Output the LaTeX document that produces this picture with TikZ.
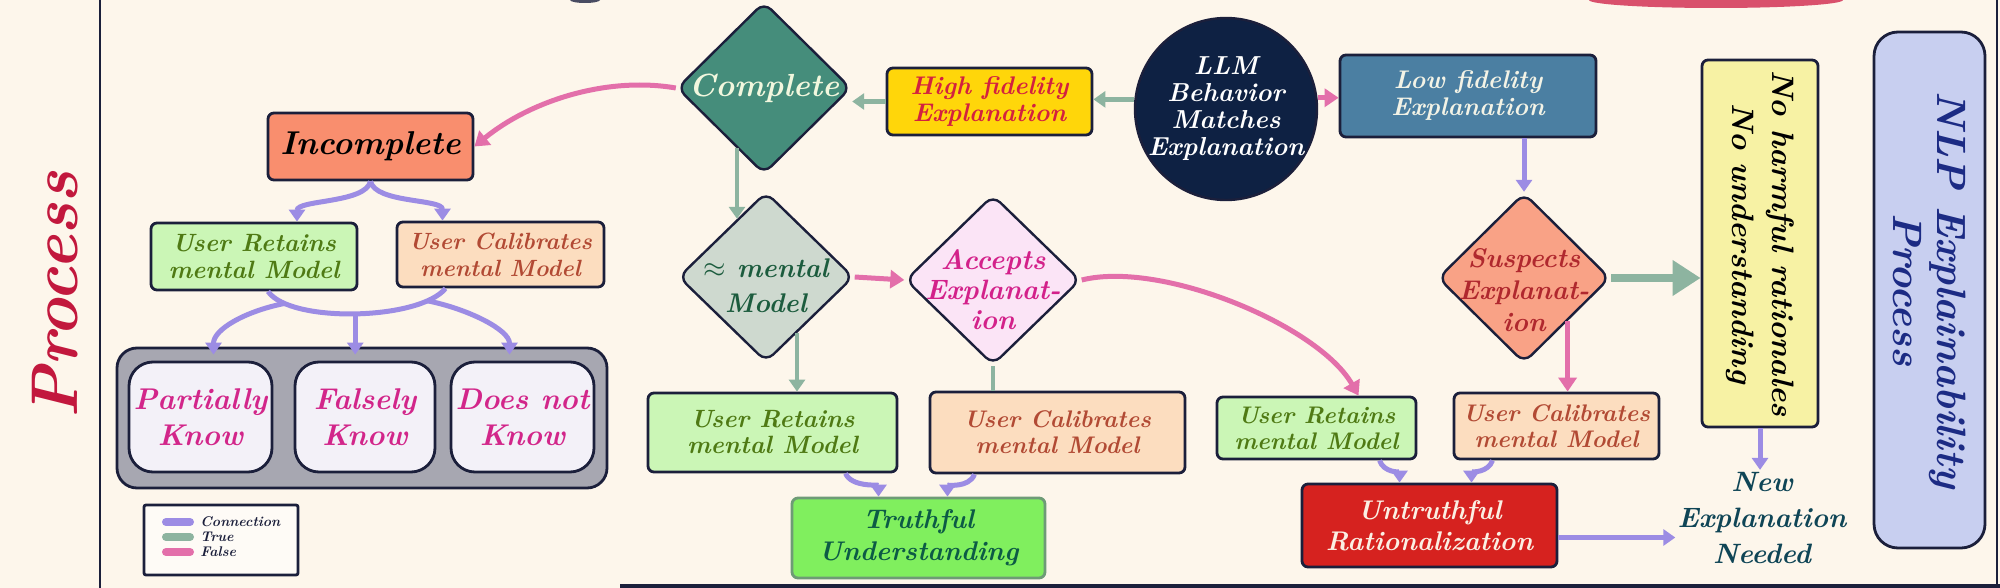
\documentclass[tikz,border=0pt]{standalone}
\usepackage{fontspec}
\usetikzlibrary{shapes.geometric,arrows.meta,calc}
\newcommand\handf[2]{\fontsize{#1}{#2}\selectfont\bfseries\itshape}
\definecolor{bg}{HTML}{FDF6EB}
\definecolor{navy}{HTML}{1B1F3B}
\definecolor{conn}{HTML}{9C8CE4}
\definecolor{tru}{HTML}{8DB4A0}
\definecolor{fal}{HTML}{E36FAA}
\definecolor{incfill}{HTML}{F98E6E}
\definecolor{retfill}{HTML}{CBF6B6}
\definecolor{rettext}{HTML}{4F7A14}
\definecolor{calfill}{HTML}{FCDDBF}
\definecolor{caltext}{HTML}{B24A34}
\definecolor{grayc}{HTML}{A7A7B1}
\definecolor{knowfill}{HTML}{F3F1F8}
\definecolor{knowtext}{HTML}{D2268A}
\definecolor{compfill}{HTML}{458D7B}
\definecolor{comptext}{HTML}{F2F7DE}
\definecolor{hifill}{HTML}{FFD60A}
\definecolor{hitext}{HTML}{D3213F}
\definecolor{llmfill}{HTML}{0E2143}
\definecolor{lofill}{HTML}{4B7FA2}
\definecolor{lotext}{HTML}{F3F3E6}
\definecolor{susfill}{HTML}{F9A286}
\definecolor{sustext}{HTML}{B0282E}
\definecolor{menfill}{HTML}{CED9CF}
\definecolor{mentext}{HTML}{1C5C3E}
\definecolor{accfill}{HTML}{FBE4F6}
\definecolor{acctext}{HTML}{D3218A}
\definecolor{trufill}{HTML}{80EF5E}
\definecolor{trutext}{HTML}{0C5B45}
\definecolor{truborder}{HTML}{6E9B76}
\definecolor{untfill}{HTML}{D6221F}
\definecolor{unttext}{HTML}{FBEFE3}
\definecolor{yelfill}{HTML}{F7F2A4}
\definecolor{nlpfill}{HTML}{C8CFF0}
\definecolor{nlptext}{HTML}{1C2B84}
\definecolor{newtext}{HTML}{0F4556}
\definecolor{procred}{HTML}{C2183D}
\definecolor{toppink}{HTML}{D9506C}
\tikzset{
  box/.style={draw=navy, line width=1.4pt, rounded corners=3pt, align=center, inner sep=0pt},
  diam/.style={diamond, draw=navy, line width=1.2pt, rounded corners=5pt, inner sep=0pt},
  ca/.style={draw=conn, line width=2.5pt, -{Triangle[length=6pt,width=8pt]}},
  cl/.style={draw=conn, line width=2.5pt},
  ta/.style={draw=tru, line width=2.2pt, -{Triangle[length=6pt,width=8pt]}},
  tl/.style={draw=tru, line width=2.2pt},
  fa/.style={draw=fal, line width=2.5pt, -{Triangle[length=7pt,width=9pt]}},
  txt/.style={align=center, inner sep=1pt},
}
\begin{document}
\begin{tikzpicture}[x=0.5pt,y=-0.5pt]
\useasboundingbox (0,0) rectangle (2000,588);
\fill[bg] (0,0) rectangle (2000,588);
% frame and cut-off shapes at the edges
\draw[navy, line width=1.3pt] (100,0) -- (100,588);
\draw[navy, line width=1.6pt] (620,586) -- (2000,586);
\draw[navy, line width=1.3pt] (1997,0) -- (1997,588);
\fill[toppink] (1716,0) ellipse [x radius=127, y radius=8];
\fill[navy!80] (585,0) ellipse [x radius=15, y radius=3];

% left title
\node[rotate=90, text=procred, font=\handf{33}{33}] (proc) at (55,295) {Process};

% left part
\node[box, fill=incfill, minimum width=102.5pt, minimum height=33.5pt, font=\handf{16.5}{20}] (incomplete) at (370.5,146.5) {Incomplete};
\node[box, fill=retfill, text=rettext, minimum width=103pt, minimum height=33.5pt, font=\handf{12.5}{13.5}] (l1) at (254,256.5) {User Retains\\mental Model};
\node[box, fill=calfill, text=caltext, minimum width=103.5pt, minimum height=32.5pt, font=\handf{11.75}{13.5}] (l2) at (500.5,254.5) {User Calibrates\\mental Model};
\node[box, fill=grayc, rounded corners=10pt, minimum width=245pt, minimum height=70pt] (container) at (362,418) {};
\node[box, fill=knowfill, text=knowtext, rounded corners=12pt, minimum width=71.5pt, minimum height=55pt, font=\handf{15}{18}] (pk) at (200.5,417) {Partially\\Know};
\node[box, fill=knowfill, text=knowtext, rounded corners=12pt, minimum width=70pt, minimum height=55pt, font=\handf{15}{18}] (fk) at (365,417) {Falsely\\Know};
\node[box, fill=knowfill, text=knowtext, rounded corners=12pt, minimum width=71.5pt, minimum height=55pt, font=\handf{15}{18}] (dk) at (522.5,417) {Does not\\Know};

% legend
\node[box, fill=white!55!bg, rounded corners=1pt, minimum width=77pt, minimum height=35pt] (legend) at (221,540) {};
\draw[conn, line width=4pt, line cap=round] (166,522) -- (190,522);
\draw[tru, line width=4pt, line cap=round] (166,537) -- (190,537);
\draw[fal, line width=4pt, line cap=round] (166,552) -- (190,552);
\node[anchor=west, inner sep=0pt, text=navy, font=\handf{7}{7}] (lg1) at (200,522) {Connection};
\node[anchor=west, inner sep=0pt, text=navy, font=\handf{7}{7}] (lg2) at (200,537) {True};
\node[anchor=west, inner sep=0pt, text=navy, font=\handf{7}{7}] (lg3) at (200,552) {False};

% middle part
\node[diam, fill=compfill, minimum width=87pt, minimum height=86pt] (complete) at (764,88) {};
\node[txt, text=comptext, font=\handf{16}{18}] (complete-t) at (complete) {Complete};
\node[box, fill=hifill, text=hitext, minimum width=102.5pt, minimum height=33.5pt, font=\handf{12.75}{13.5}] (hifid) at (989.5,101.5) {High fidelity\\Explanation};
\node[circle, draw=navy, line width=1.2pt, fill=llmfill, minimum size=91pt, inner sep=0pt] (llm) at (1226,109) {};
\node[txt, text=white, font=\handf{13}{13.5}] (llm-t) at (llm) {LLM\\Behavior\\Matches\\Explanation};
\node[diam, fill=menfill, minimum width=87.5pt, minimum height=85pt] (mental) at (766,277) {};
\node[txt, text=mentext, font=\handf{13.5}{17.5}] (mental-t) at ($(mental)+(0,9)$) {$\approx$ mental\\Model};
\node[diam, fill=accfill, minimum width=87.5pt, minimum height=85pt] (accepts) at (993,280) {};
\node[txt, text=acctext, font=\handf{14}{15}] (accepts-t) at ($(accepts)+(0,10)$) {Accepts\\Explanat-\\ion};
\node[box, fill=retfill, text=rettext, minimum width=124.5pt, minimum height=39.5pt, font=\handf{12.5}{13}] (m1) at (772.5,432.5) {User Retains\\mental Model};
\node[box, fill=calfill, text=caltext, minimum width=127.5pt, minimum height=40.5pt, font=\handf{12}{13}] (m2) at (1057.5,432.5) {User Calibrates\\mental Model};
\node[box, draw=truborder, fill=trufill, text=trutext, minimum width=126.5pt, minimum height=40pt, font=\handf{13.5}{16}] (truthful) at (918.5,538) {Truthful\\Understanding};

% right part
\node[box, fill=lofill, text=lotext, minimum width=128pt, minimum height=41pt, font=\handf{12.75}{13.5}] (lofid) at (1468,96) {Low fidelity\\Explanation};
\node[diam, fill=susfill, minimum width=86pt, minimum height=85pt] (suspects) at (1524,278) {};
\node[txt, text=sustext, font=\handf{13.5}{16}] (suspects-t) at ($(suspects)+(0,12)$) {Suspects\\Explanat-\\ion};
\node[box, fill=retfill, text=rettext, minimum width=99.5pt, minimum height=31pt, font=\handf{12}{13}] (r3) at (1316.5,428) {User Retains\\mental Model};
\node[box, fill=calfill, text=caltext, minimum width=102.5pt, minimum height=33pt, font=\handf{12}{13}] (r4) at (1556.5,426) {User Calibrates\\mental Model};
\node[box, fill=untfill, text=unttext, minimum width=127.5pt, minimum height=41.5pt, font=\handf{13.5}{15.5}] (untruthful) at (1429.5,525.5) {Untruthful\\Rationalization};
\node[box, fill=yelfill, minimum width=58pt, minimum height=183.5pt] (nohalt) at (1760,243.5) {};
\node[txt, rotate=-90, text=black, font=\handf{15.5}{20}] (nohalt-t) at (nohalt) {No harmful rationales\\No understanding};
\node[txt, text=newtext, font=\handf{14}{18}] (newexp) at (1762,518) {New\\Explanation\\Needed};
\node[box, fill=nlpfill, rounded corners=12pt, minimum width=55.5pt, minimum height=258pt] (nlp) at (1929.5,290) {};
\node[txt, rotate=-90, text=nlptext, font=\handf{20.5}{22}] (nlp-t) at (nlp) {NLP Explainability\\Process};

% connectors: left
\draw[fa] (complete.west) .. controls +(-70,-12) and +(55,-45) .. (incomplete.east);
\draw[ca] (incomplete.south) .. controls +(-5,22) and +(0,-22) .. ($(l1.north)+(43,0)$);
\draw[ca] (incomplete.south) .. controls +(5,22) and +(0,-22) .. ($(l2.north)+(-58,0)$);
\draw[cl] ($(l1.south)+(14,0)$) .. controls +(22,32) and +(-26,32) .. ($(l2.south)+(-55,0)$)
   coordinate[pos=0.15] (archl) coordinate[pos=0.5] (archm) coordinate[pos=0.85] (archr);
\draw[ca] (archl) .. controls +(-40,8) and +(0,-25) .. ($(pk.north)+(13,-6)$);
\draw[ca] (archm) -- ($(archm |- fk.north)+(0,-6)$);
\draw[ca] (archr) .. controls +(40,8) and +(0,-25) .. ($(dk.north)+(-13,-6)$);

% connectors: middle
\draw[ta] (llm.174) -- (llm.174 -| hifid.east);
\draw[ta] (hifid.west) -- (hifid.west -| complete.east);
\coordinate (cs) at ($(complete.south)+(-27,-27)$);
\draw[ta] (cs) -- ($(mental.north)+(-29,28)$);
\coordinate (ms) at ($(mental.south)+(31,-30)$);
\draw[ta] (ms) -- (ms |- m1.north);
\draw[fa] (mental.east) -- (accepts.west);
\draw[tl] (accepts.south) -- (accepts.south |- m2.north);
\draw[fa] (accepts.east) .. controls +(80,-20) and +(-40,-70) .. ($(r3.north)+(42,0)$);
\draw[ca] ($(m1.south)+(73,0)$) .. controls +(6,14) and +(0,-12) .. ($(truthful.north)+(-40,0)$);
\draw[ca] ($(m2.south)+(-83,0)$) .. controls +(-6,14) and +(0,-12) .. ($(truthful.north)+(29,0)$);

% connectors: right
\draw[fa] (llm.7) -- (llm.7 -| lofid.west);
\draw[ca] (lofid.south -| suspects.north) -- (suspects.north);
\draw[draw=tru, line width=4pt, -{Triangle[length=14pt,width=17pt]}] (suspects.east) -- (suspects.east -| nohalt.west);
\coordinate (sse) at (suspects.south east);
\draw[fa] (sse) -- (sse |- r4.north);
\draw[ca] ($(r3.south)+(63,0)$) .. controls +(4,12) and +(0,-10) .. ($(untruthful.north)+(-30,0)$);
\draw[ca] ($(r4.south)+(-64,0)$) .. controls +(-4,12) and +(0,-10) .. ($(untruthful.north)+(42,0)$);
\draw[ca] (nohalt.south) -- (nohalt.south |- newexp.north);
\coordinate (ue) at ($(untruthful.east)+(0,12)$);
\draw[ca] (ue) -- (ue -| newexp.west);
\end{tikzpicture}
\end{document}
